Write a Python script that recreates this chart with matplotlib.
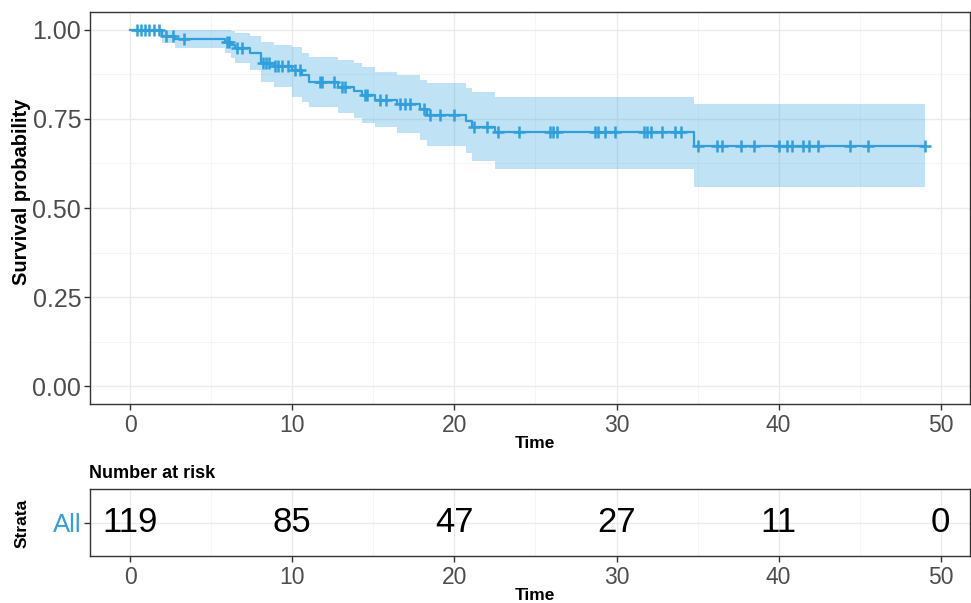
import numpy as np
import matplotlib
matplotlib.use("Agg")
from matplotlib import pyplot as plt

plt.rcParams['font.family'] = ['Liberation Sans', 'DejaVu Sans']

# Kaplan-Meier estimate
event_times = [1.95, 2.8, 5.86, 6.25, 6.5, 7.4, 8.1, 8.85, 9.97, 10.6, 11.06,
               12.85, 13.8, 14.3, 15.1, 16.45, 17.9, 18.3, 20.7, 21.1, 22.5, 34.8]
surv = [0.983, 0.974, 0.965, 0.957, 0.948, 0.933, 0.907, 0.898, 0.886, 0.872, 0.854,
        0.839, 0.828, 0.816, 0.802, 0.791, 0.777, 0.760, 0.743, 0.727, 0.712, 0.674]
upper = [1.0, 1.0, 1.0, 0.995, 0.989, 0.981, 0.965, 0.958, 0.951, 0.933, 0.922,
         0.914, 0.905, 0.895, 0.881, 0.872, 0.860, 0.851, 0.835, 0.825, 0.811, 0.791]
lower = [0.961, 0.947, 0.933, 0.920, 0.907, 0.886, 0.852, 0.839, 0.811, 0.797, 0.783,
         0.765, 0.752, 0.737, 0.727, 0.709, 0.690, 0.673, 0.653, 0.632, 0.608, 0.558]
censor_times = [0.45, 0.7, 0.95, 1.2, 1.45, 1.8, 2.2, 2.65, 3.3, 5.95, 6.1, 6.6, 6.9,
                8.2, 8.4, 8.55, 8.95, 9.15, 9.35, 9.75, 10.2, 10.5, 11.7, 11.85, 12.55,
                13.05, 13.25, 14.5, 14.6, 15.4, 15.8, 16.65, 16.95, 17.25, 18.1, 18.5,
                19.1, 20.0, 21.2, 22.0, 22.7, 24.0, 25.9, 26.1, 26.3, 28.7, 28.85, 29.3,
                29.9, 31.7, 31.9, 32.1, 32.8, 33.6, 34.0, 35.0, 36.2, 36.5, 37.7, 38.5,
                40.0, 40.5, 40.8, 41.5, 41.9, 42.4, 44.4, 45.5, 49.0]
last_time = 49.0

risk_times = [0, 10, 20, 30, 40, 50]
n_risk = [119, 85, 47, 27, 11, 0]
strata = ['All']

col = '#2E9FDF'
grey_txt = '#4D4D4D'
W, H = 971, 603


def fx(px):
    return px / W


def fy(py):
    return 1 - py / H


def style_axes(ax):
    ax.set_xlim(-2.5, 51.8)
    ax.set_xticks(risk_times)
    ax.set_xticks([5, 15, 25, 35, 45], minor=True)
    ax.grid(which='major', color='#EBEBEB', lw=1.0)
    ax.grid(which='minor', color='#F4F4F4', lw=0.6)
    ax.set_axisbelow(True)
    for s in ax.spines.values():
        s.set_color('#333333')
        s.set_linewidth(1.0)
    ax.tick_params(which='major', length=4, width=1, color='#333333',
                   labelsize=16.5, labelcolor=grey_txt, pad=3)
    ax.tick_params(which='minor', length=0)


fig = plt.figure(figsize=(W / 100, H / 100), dpi=100)

# main survival panel
ax = fig.add_axes([fx(89.5), fy(404.3), fx(970 - 89.5), (404.3 - 11.7) / H])
style_axes(ax)
ax.set_ylim(-0.05, 1.05)
ax.set_yticks([0, 0.25, 0.5, 0.75, 1.0])
ax.set_yticklabels(['0.00', '0.25', '0.50', '0.75', '1.00'])
ax.set_yticks([0.125, 0.375, 0.625, 0.875], minor=True)
ax.tick_params(axis='y', labelsize=18, pad=2)

t_step = [0] + event_times + [last_time]
s_step = [1.0] + surv + [surv[-1]]
up_step = [1.0] + upper + [upper[-1]]
lo_step = [1.0] + lower + [lower[-1]]
ax.fill_between(t_step, lo_step, up_step, step='post', color=col, alpha=0.3, lw=0)
ax.step(t_step, s_step, where='post', color=col, lw=1.6)

idx = np.searchsorted(event_times, censor_times, side='right')
s_c = np.array([1.0] + surv)[idx]
ax.plot(censor_times, s_c, ls='none', marker='+', ms=9, mew=1.8, color=col)

fig.text(fx(22), fy(192), 'Survival probability', rotation=90, ha='center', va='center',
         fontsize=14.5, fontweight='bold')
fig.text(fx(535), fy(444), 'Time', ha='center', va='center', fontsize=12.5,
         fontweight='bold')

# risk table
axr = fig.add_axes([fx(89.5), fy(556), fx(970 - 89.5), (556 - 489) / H])
style_axes(axr)
axr.set_ylim(0.5, 1.5)
axr.set_yticks([1])
axr.set_yticklabels(strata)
axr.tick_params(axis='y', labelsize=18.5, labelcolor=col, pad=2)
for t, n in zip(risk_times, n_risk):
    axr.text(t, 1, str(n), ha='center', va='center', fontsize=25, color='black')

fig.text(fx(89), fy(474), 'Number at risk', ha='left', va='center', fontsize=13,
         fontweight='bold')
fig.text(fx(22), fy(523), 'Strata', rotation=90, ha='center', va='center',
         fontsize=12.5, fontweight='bold')
fig.text(fx(535), fy(596), 'Time', ha='center', va='center', fontsize=12.5,
         fontweight='bold')

fig.savefig('out.png', dpi=100)
